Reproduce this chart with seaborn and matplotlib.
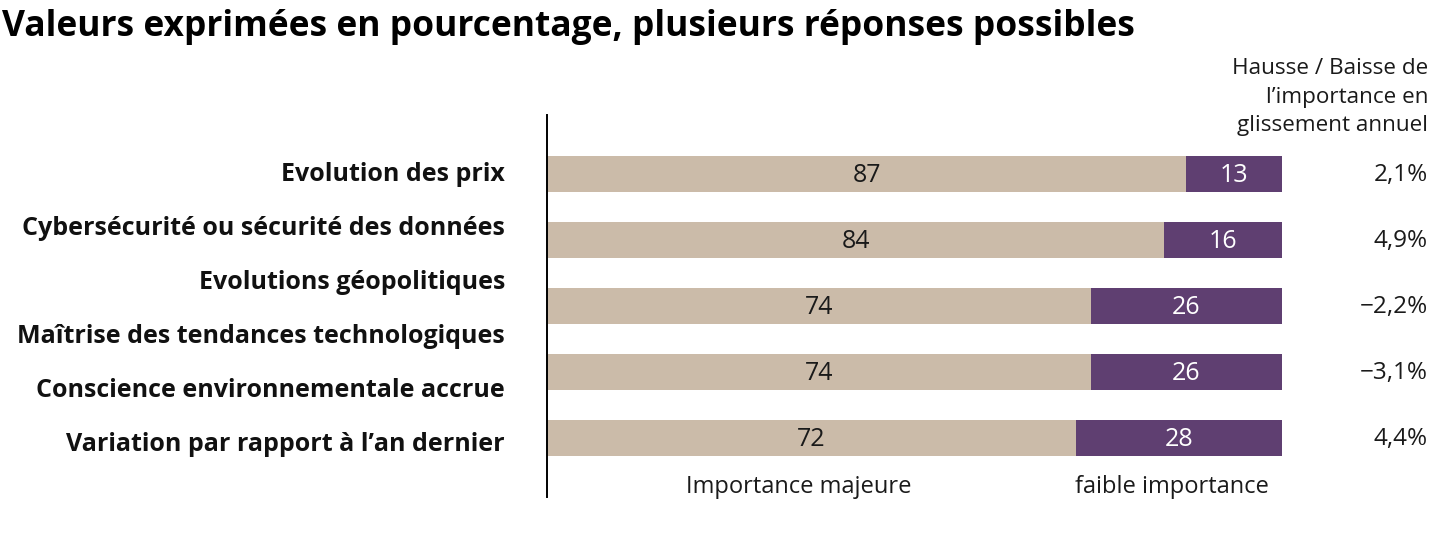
import matplotlib
matplotlib.use("Agg")
import matplotlib.pyplot as plt
import matplotlib.transforms as mtransforms
import seaborn as sns
import pandas as pd

sns.set_theme(style="white")
plt.rcParams['font.family'] = ['Open Sans', 'DejaVu Sans']

title = "Valeurs exprimées en pourcentage, plusieurs réponses possibles"
categories = ["Evolution des prix",
              "Cybersécurité ou sécurité des données",
              "Evolutions géopolitiques",
              "Maîtrise des tendances technologiques",
              "Conscience environnementale accrue",
              "Variation par rapport à l\u2019an dernier"]
major = [87, 84, 74, 74, 72]
minor = [13, 16, 26, 26, 28]
change = ["2,1%", "4,9%", "\u22122,2%", "\u22123,1%", "4,4%"]
header_lines = ["Hausse / Baisse de", "l\u2019importance en", "glissement annuel"]
series_names = ["Importance majeure", "faible importance"]

BEIGE = "#CBBBA9"
PURPLE = "#5F3F71"

rows = [f"r{i}" for i in range(len(major))]
df = pd.DataFrame({"row": rows, "major": major, "minor": minor})
df["total"] = df["major"] + df["minor"]

fig = plt.figure(figsize=(14.4, 5.4), dpi=100)
W, H = 1440, 540
ax_left, ax_right = 547, 1282
ax_top, ax_bot = 115, 497
ax = fig.add_axes([ax_left / W, 1 - ax_bot / H, (ax_right - ax_left) / W, (ax_bot - ax_top) / H])

bw = 0.545
sns.barplot(data=df, y="row", x="total", orient="h", color=PURPLE, width=bw,
            saturation=1, ax=ax, linewidth=0)
sns.barplot(data=df, y="row", x="major", orient="h", color=BEIGE, width=bw,
            saturation=1, ax=ax, linewidth=0)

ax.set_xlim(0, 100)
ax.set_ylim(4.894, -0.894)
ax.set_xlabel("")
ax.set_ylabel("")
ax.set_xticks([])
ax.set_yticks([])
for s in ["top", "right", "bottom"]:
    ax.spines[s].set_visible(False)
ax.spines["left"].set_color("black")
ax.spines["left"].set_linewidth(1.4)

fs_val = 18
for i, (m, n) in enumerate(zip(major, minor)):
    ax.text(m / 2, i + 0.02, str(m), ha="center", va="center", fontsize=fs_val, color="#1a1a1a")
    ax.text(m + n / 2, i + 0.02, str(n), ha="center", va="center", fontsize=fs_val, color="white")

blend = mtransforms.blended_transform_factory(fig.transFigure, ax.transData)
for i, c in enumerate(change):
    ax.text(1428 / W, i + 0.02, c, ha="right", va="center", fontsize=17.5, color="#1a1a1a",
            transform=blend)

# left category labels (evenly spaced, independent of bars)
for i, cat in enumerate(categories):
    ax.text(505 / W, 0.01 + i * 0.818, cat, ha="right", va="center", fontsize=18,
            fontweight="bold", color="#111111", transform=blend)

# header on the right
for yy, line in zip([68, 97, 125], header_lines):
    fig.text(1428 / W, 1 - yy / H, line, ha="right", va="center", fontsize=16.2,
             color="#1a1a1a")

# bottom series labels
blend_x = mtransforms.blended_transform_factory(ax.transData, fig.transFigure)
ax.text(34.2, 1 - 487 / H, series_names[0], ha="center", va="center", fontsize=17,
        color="#1a1a1a", transform=blend_x)
ax.text(85.0, 1 - 487 / H, series_names[1], ha="center", va="center", fontsize=17,
        color="#1a1a1a", transform=blend_x)

fig.text(2 / W, 1 - 27 / H, title, ha="left", va="center", fontsize=25.5,
         fontweight="bold", color="black")

fig.savefig("out.png", dpi=100)
